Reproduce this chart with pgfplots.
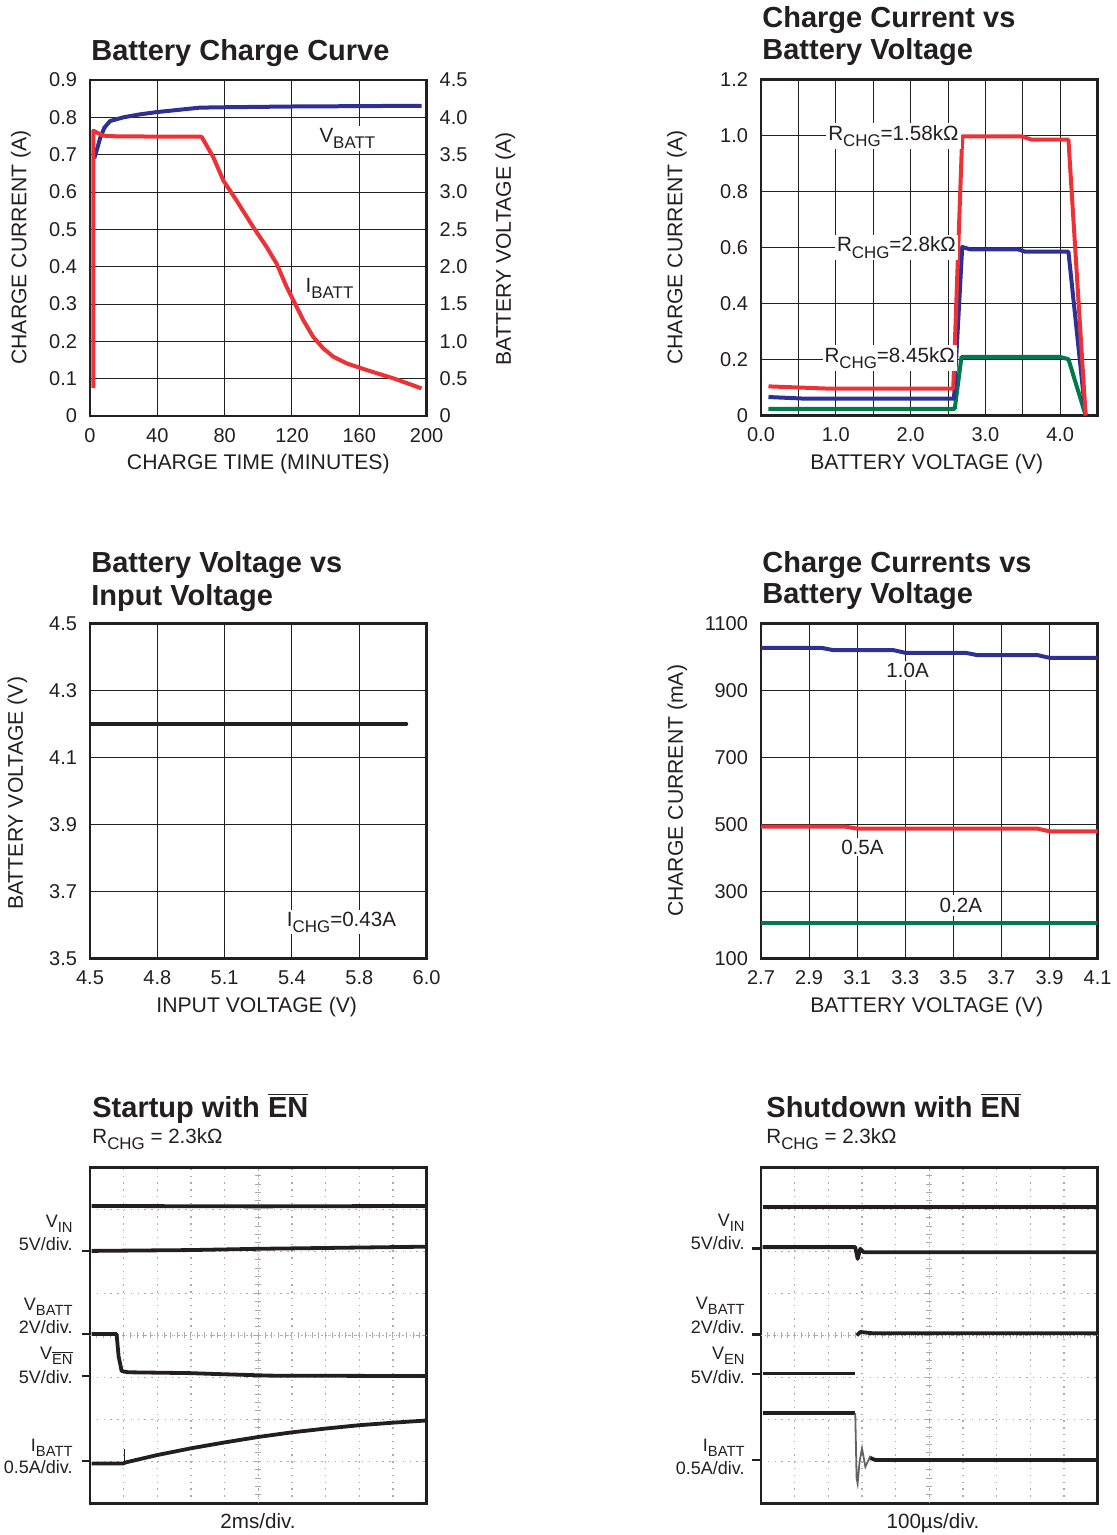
\documentclass[border=0pt]{standalone}
\usepackage{fontspec}
\setmainfont{Liberation Sans}
\usepackage{graphicx}
\usepackage{pgfplots}
\pgfplotsset{compat=1.18}

\definecolor{cred}{RGB}{237,50,55}
\definecolor{cblue}{RGB}{46,49,146}
\definecolor{cgreen}{RGB}{0,122,75}
\definecolor{ink}{RGB}{35,31,32}

\newcommand\sub[1]{\raisebox{-0.3em}{\scalebox{0.82}{#1}}}
\newcommand\ovl[1]{\ensuremath{\overline{\mbox{#1}}}}
\newcommand\tickf{\fontsize{10}{12}\selectfont}
\newcommand\labf{\fontsize{10.6}{12}\selectfont}
\newcommand\titf{\fontsize{14.5}{16}\selectfont\bfseries}
\newcommand\annf{\fontsize{10.3}{12}\selectfont}
\newcommand\scpf{\fontsize{9}{11}\selectfont}

\pgfplotsset{
  chart/.style={
    scale only axis, width=168.3pt, height=168pt,
    anchor=south west,
    axis line style={line width=1.2pt, ink},
    major tick length=0pt, minor tick length=0pt,
    every tick/.style={draw=none},
    grid=major,
    major grid style={line width=0.5pt, ink},
    minor grid style={line width=0.5pt, ink},
    ticklabel style={font=\tickf, text=ink},
    xticklabel style={yshift=-2.6pt},
    yticklabel style={xshift=-3pt},
  },
  scope/.style={
    scale only axis, width=168.3pt, height=168pt,
    anchor=south west,
    xmin=0, xmax=10, ymin=0, ymax=8,
    axis line style={line width=1.2pt, ink},
    xtick={1,...,9}, ytick={1,...,7},
    xticklabels={}, yticklabels={},
    major tick length=0pt, every tick/.style={draw=none},
    grid=major,
    major grid style={gray!65, line width=0.7pt, dash pattern=on 0.7pt off 2.7pt},
    clip=false,
  },
  curve/.style={line width=2pt, line join=round},
  trace/.style={ink, line width=1.9pt, line join=round},
}

\begin{document}
\begin{tikzpicture}
\path[use as bounding box] (0pt,0pt) rectangle (558pt,-767.5pt);

% ---------- Battery Charge Curve ----------
\begin{axis}[chart, at={(45pt,-208pt)},
  xmin=0, xmax=200, ymin=0, ymax=4.5,
  xtick={0,40,...,200}, xticklabels={},
  ytick={0,0.5,...,4.5}, yticklabel pos=right,
  yticklabels={0,0.5,1.0,1.5,2.0,2.5,3.0,3.5,4.0,4.5},
  yticklabel style={xshift=6pt}]
\addplot[curve, cblue] coordinates {
 (2.5,3.45) (4,3.56) (6,3.72) (8.5,3.86) (11.9,3.95) (19.8,4.00) (29.7,4.04)
 (39.6,4.07) (65.3,4.13) (80,4.135) (119,4.145) (160,4.15) (197,4.155)};
\end{axis}
\begin{axis}[chart, at={(45pt,-208pt)}, grid=none,
  xmin=0, xmax=200, ymin=0, ymax=0.9,
  xtick={0,40,...,200}, xticklabels={0,40,80,120,160,200},
  ytick={0,0.1,...,0.9},
  yticklabels={0,0.1,0.2,0.3,0.4,0.5,0.6,0.7,0.8,0.9}]
\addplot[curve, cred] coordinates {
 (2,0.075) (2,0.764) (7.7,0.751) (16,0.749) (66.3,0.748) (73.3,0.693)
 (79.2,0.631) (87.1,0.577) (97.0,0.506) (104.9,0.453) (110.9,0.408)
 (116.8,0.346) (120.8,0.310) (126.7,0.257) (132.6,0.212) (138.6,0.181)
 (144.5,0.159) (152.5,0.141) (164.4,0.123) (180.2,0.101) (197.0,0.074)};
\node[font=\annf, text=ink, fill=white, inner sep=1pt, anchor=base] at (axis cs:152.9,0.733) {V\sub{BATT}};
\node[font=\annf, text=ink, fill=white, inner sep=1pt, anchor=base] at (axis cs:142.3,0.332) {I\sub{BATT}};
\end{axis}

% ---------- Charge Current vs Battery Voltage ----------
\begin{axis}[chart, at={(380.5pt,-207.75pt)}, grid=both,
  xmin=0, xmax=4.5, ymin=0, ymax=1.2,
  xtick={0,1,2,3,4}, xticklabels={0.0,1.0,2.0,3.0,4.0},
  minor xtick={0.5,1.5,2.5,3.5},
  ytick={0,0.2,...,1.2}, yticklabels={0,0.2,0.4,0.6,0.8,1.0,1.2}]
\addplot[curve, cgreen] coordinates {
 (0.1,0.024) (2.59,0.024) (2.68,0.209) (4.0,0.209) (4.11,0.201) (4.34,0)};
\addplot[curve, cblue] coordinates {
 (0.1,0.066) (0.6,0.060) (2.58,0.060) (2.69,0.602) (2.80,0.593) (3.44,0.593)
 (3.53,0.585) (4.11,0.585) (4.34,0)};
\addplot[curve, cred] coordinates {
 (0.1,0.104) (0.9,0.096) (2.57,0.096) (2.69,0.997) (3.48,0.997) (3.62,0.985)
 (4.11,0.985) (4.34,0)};
\node[font=\annf, text=ink, fill=white, inner sep=1pt, anchor=base] at (axis cs:1.77,0.983) {R\sub{CHG}=1.58kΩ};
\node[font=\annf, text=ink, fill=white, inner sep=1pt, anchor=base] at (axis cs:1.81,0.584) {R\sub{CHG}=2.8kΩ};
\node[font=\annf, text=ink, fill=white, inner sep=1pt, anchor=base] at (axis cs:1.72,0.1905) {R\sub{CHG}=8.45kΩ};
\end{axis}

% ---------- Battery Voltage vs Input Voltage ----------
\begin{axis}[chart, at={(45pt,-479.15pt)}, height=167.5pt,
  xmin=4.5, xmax=6.0, ymin=3.5, ymax=4.5,
  xtick={4.5,4.8,5.1,5.4,5.7,6.0}, xticklabels={4.5,4.8,5.1,5.4,5.8,6.0},
  ytick={3.5,3.7,3.9,4.1,4.3,4.5}, yticklabels={3.5,3.7,3.9,4.1,4.3,4.5}]
\addplot[ink, line width=1.8pt, line cap=round] coordinates {(4.5,4.2) (5.91,4.2)};
\node[font=\annf, text=ink, fill=white, inner sep=1pt, anchor=base] at (axis cs:5.621,3.596) {I\sub{CHG}=0.43A};
\end{axis}

% ---------- Charge Currents vs Battery Voltage ----------
\begin{axis}[chart, at={(380.5pt,-479.15pt)}, height=167.5pt,
  xmin=2.7, xmax=4.1, ymin=100, ymax=1100,
  xtick={2.7,2.9,3.1,3.3,3.5,3.7,3.9,4.1}, xticklabels={2.7,2.9,3.1,3.3,3.5,3.7,3.9,4.1},
  ytick={100,300,500,700,900,1100}, yticklabels={100,300,500,700,900,1100}]
\addplot[curve, cblue] coordinates {
 (2.7,1027) (2.95,1027) (3.0,1020) (3.25,1020) (3.30,1012) (3.55,1012)
 (3.60,1005) (3.85,1005) (3.90,997) (4.1,997)};
\addplot[curve, cred] coordinates {
 (2.7,493) (3.05,493) (3.10,487) (3.85,487) (3.90,479) (4.1,479)};
\addplot[curve, cgreen] coordinates {(2.7,205) (4.1,205)};
\node[font=\annf, text=ink, fill=white, inner sep=1pt, anchor=base] at (axis cs:3.310,937.6) {1.0A};
\node[font=\annf, text=ink, fill=white, inner sep=1pt, anchor=base] at (axis cs:3.122,411) {0.5A};
\node[font=\annf, text=ink, fill=white, inner sep=1.5pt, anchor=base] at (axis cs:3.531,236) {0.2A};
\end{axis}

% ---------- Startup with EN ----------
\begin{axis}[scope, at={(45pt,-751.65pt)}]
\draw[gray!65, line width=0.6pt, dash pattern=on 0.6pt off 1.4pt] (axis cs:5,0) -- (axis cs:5,8);
\draw[gray!65, line width=0.6pt, dash pattern=on 0.6pt off 1.4pt] (axis cs:0,4) -- (axis cs:10,4);
\pgfplotsinvokeforeach{0.2,0.4,...,9.8}{\draw[gray!65, line width=0.5pt] (axis cs:#1,3.93) -- (axis cs:#1,4.07);}
\pgfplotsinvokeforeach{0.2,0.4,...,7.8}{\draw[gray!65, line width=0.5pt] (axis cs:4.91,#1) -- (axis cs:5.09,#1);}
\addplot[trace] coordinates {(0.05,7.08) (5,7.07) (9.95,7.08)};
\addplot[trace] coordinates {(0.05,6.01) (3,6.03) (5,6.06) (7,6.08) (9.95,6.11)};
\addplot[trace] coordinates {
 (0.05,4.03) (0.79,4.03) (0.85,3.5) (0.94,3.15) (1.13,3.12) (2.97,3.10)
 (3.7,3.08) (5.35,3.04) (9.95,3.03)};
\addplot[trace] coordinates {(0.05,0.95) (1.0,0.95) (1.04,0.97) (2,1.15) (3,1.31) (4,1.45)
 (5,1.58) (6,1.69) (7,1.78) (8,1.86) (9,1.92) (9.95,1.97)};
\addplot[ink, line width=0.8pt] coordinates {(1.02,0.97) (1.02,1.3)};
\draw[ink, line width=1.4pt] (axis cs:-0.25,6.01) -- (axis cs:0,6.01);
\draw[ink, line width=1.4pt] (axis cs:-0.25,4.03) -- (axis cs:0,4.03);
\draw[ink, line width=1.4pt] (axis cs:-0.25,3.03) -- (axis cs:0,3.03);
\draw[ink, line width=1.4pt] (axis cs:-0.25,1.01) -- (axis cs:0,1.01);
\end{axis}

% ---------- Shutdown with EN ----------
\begin{axis}[scope, at={(380.5pt,-751.65pt)}]
\draw[gray!65, line width=0.6pt, dash pattern=on 0.6pt off 1.4pt] (axis cs:5,0) -- (axis cs:5,8);
\draw[gray!65, line width=0.6pt, dash pattern=on 0.6pt off 1.4pt] (axis cs:0,4) -- (axis cs:10,4);
\pgfplotsinvokeforeach{0.2,0.4,...,9.8}{\draw[gray!65, line width=0.5pt] (axis cs:#1,3.93) -- (axis cs:#1,4.07);}
\pgfplotsinvokeforeach{0.2,0.4,...,7.8}{\draw[gray!65, line width=0.5pt] (axis cs:4.91,#1) -- (axis cs:5.09,#1);}
\addplot[trace] coordinates {(0.05,7.05) (9.95,7.05)};
\addplot[trace] coordinates {(0.05,6.10) (2.80,6.10) (2.87,5.82) (2.95,6.06) (3.05,5.98) (9.95,5.98)};
\addplot[trace] coordinates {(2.85,4.0) (2.95,4.08) (3.3,4.05) (9.95,4.05)};
\addplot[trace] coordinates {(0.05,3.09) (2.80,3.09)};
\addplot[trace] coordinates {(0.05,2.15) (2.80,2.15)};
\addplot[ink!70, line width=0.9pt] coordinates {
 (2.80,2.15) (2.84,0.6) (2.87,0.475) (2.93,1.0) (3.0,1.31) (3.1,0.87) (3.24,1.11) (3.4,1.02)};
\addplot[trace] coordinates {(3.25,1.08) (3.4,1.03) (9.95,1.03)};
\draw[ink, line width=1.4pt] (axis cs:-0.27,6.06) -- (axis cs:0,6.06);
\draw[ink, line width=1.4pt] (axis cs:-0.27,4.02) -- (axis cs:0,4.02);
\draw[ink, line width=1.4pt] (axis cs:-0.27,3.08) -- (axis cs:0,3.08);
\draw[ink, line width=1.4pt] (axis cs:-0.27,1.03) -- (axis cs:0,1.03);
\end{axis}

% ---------- texts, in pixel coordinates ----------
\begin{scope}[x=0.5pt, y=-0.5pt, every node/.style={text=ink, inner sep=0pt}]
\node[font=\titf, anchor=base west] at (91,61) {Battery Charge Curve};
\node[font=\titf, anchor=base west] at (762,28) {Charge Current vs};
\node[font=\titf, anchor=base west] at (762,60) {Battery Voltage};
\node[font=\titf, anchor=base west] at (91,572) {Battery Voltage vs};
\node[font=\titf, anchor=base west] at (91,605) {Input Voltage};
\node[font=\titf, anchor=base west] at (762,572) {Charge Currents vs};
\node[font=\titf, anchor=base west] at (762,603) {Battery Voltage};
\node[font=\titf, anchor=base west] at (92,1117) {Startup with \ovl{EN}};
\node[font=\annf, anchor=base west] at (92,1143) {R\sub{CHG} = 2.3kΩ};
\node[font=\titf, anchor=base west] at (766,1117) {Shutdown with \ovl{EN}};
\node[font=\annf, anchor=base west] at (766,1143) {R\sub{CHG} = 2.3kΩ};

% axis labels
\node[font=\labf, rotate=90] at (21,247.5) {CHARGE CURRENT (A)};
\node[font=\labf, rotate=90] at (505.5,249) {BATTERY VOLTAGE (A)};
\node[font=\labf] at (258.3,464) {CHARGE TIME (MINUTES)};
\node[font=\labf, rotate=90] at (677,247.5) {CHARGE CURRENT (A)};
\node[font=\labf] at (926.7,464) {BATTERY VOLTAGE (V)};
\node[font=\labf, rotate=90] at (17.5,793.3) {BATTERY VOLTAGE (V)};
\node[font=\labf] at (256.7,1007) {INPUT VOLTAGE (V)};
\node[font=\labf, rotate=90] at (677.5,790.8) {CHARGE CURRENT (mA)};
\node[font=\labf] at (926.7,1007) {BATTERY VOLTAGE (V)};

% scope labels
\node[font=\scpf, anchor=base east] at (73,1227) {V\sub{IN}};
\node[font=\scpf, anchor=base east] at (73,1250) {5V/div.};
\node[font=\scpf, anchor=base east] at (73,1310) {V\sub{BATT}};
\node[font=\scpf, anchor=base east] at (73,1333) {2V/div.};
\node[font=\scpf, anchor=base east] at (73,1359) {V\sub{\ovl{EN}}};
\node[font=\scpf, anchor=base east] at (73,1383) {5V/div.};
\node[font=\scpf, anchor=base east] at (73,1451) {I\sub{BATT}};
\node[font=\scpf, anchor=base east] at (73,1473) {0.5A/div.};
\node[font=\annf, anchor=base] at (258,1528) {2ms/div.};

\node[font=\scpf, anchor=base east] at (745,1226) {V\sub{IN}};
\node[font=\scpf, anchor=base east] at (745,1249) {5V/div.};
\node[font=\scpf, anchor=base east] at (745,1309) {V\sub{BATT}};
\node[font=\scpf, anchor=base east] at (745,1333) {2V/div.};
\node[font=\scpf, anchor=base east] at (745,1359) {V\sub{EN}};
\node[font=\scpf, anchor=base east] at (745,1383) {5V/div.};
\node[font=\scpf, anchor=base east] at (745,1451) {I\sub{BATT}};
\node[font=\scpf, anchor=base east] at (745,1474) {0.5A/div.};
\node[font=\annf, anchor=base] at (933,1528) {100µs/div.};
\end{scope}
\end{tikzpicture}
\end{document}
